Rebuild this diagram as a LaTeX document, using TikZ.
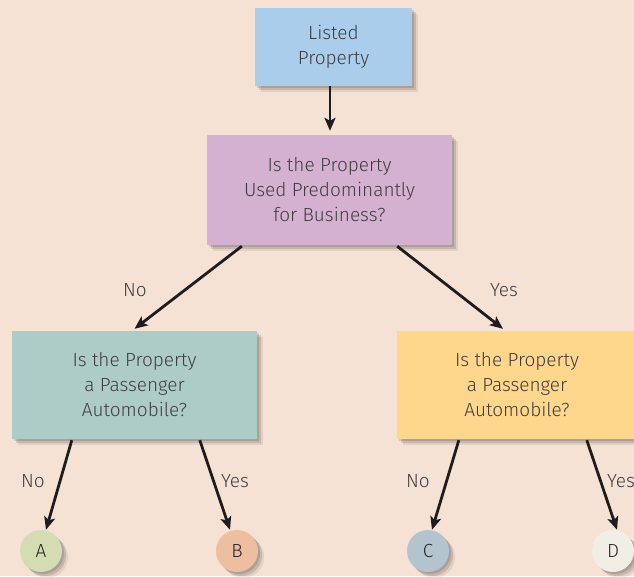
\documentclass[tikz,border=0pt]{standalone}
\usepackage{fontspec}
\setmainfont{Fira Sans}[UprightFont={* Light}]
\usetikzlibrary{arrows.meta,shadows,calc}
\definecolor{bg}{RGB}{245,226,212}
\definecolor{ink}{RGB}{65,62,66}
\definecolor{arrowink}{RGB}{30,28,30}
\definecolor{cblue}{RGB}{170,205,236}
\definecolor{cpurple}{RGB}{212,177,208}
\definecolor{cteal}{RGB}{173,204,200}
\definecolor{cyellow}{RGB}{254,214,140}
\definecolor{ca}{RGB}{212,220,178}
\definecolor{cb}{RGB}{238,190,160}
\definecolor{cc}{RGB}{180,196,206}
\definecolor{cd}{RGB}{241,239,229}
\tikzset{
  softshadow/.style={
    drop shadow={shadow xshift=2pt, shadow yshift=-2pt, opacity=0.12, fill=black},
    drop shadow={shadow xshift=4pt, shadow yshift=-4pt, opacity=0.12, fill=black},
    drop shadow={shadow xshift=6pt, shadow yshift=-6pt, opacity=0.08, fill=black}},
  box/.style={draw=none, align=center, text=ink, font=\fontsize{19}{25}\selectfont, softshadow},
  leaf/.style={circle, draw=none, minimum size=42pt, inner sep=0pt, text=black!85,
    font=\fontsize{19}{20}\selectfont, softshadow},
  lbl/.style={text=ink, font=\fontsize{19}{20}\selectfont},
  link/.style={draw=arrowink, line width=2.8pt, -{Stealth[length=13pt,width=11pt,inset=3pt]}},
}
\begin{document}
\begin{tikzpicture}[x=1pt,y=-1pt]
  \fill[bg] (0,0) rectangle (634,576);
  \useasboundingbox (0,0) rectangle (634,576);

  % decision boxes
  \node[box, fill=cblue, minimum width=157pt, minimum height=78pt] (start) at (333.5,47) {Listed\\Property};
  \node[box, fill=cpurple, minimum width=245pt, minimum height=110pt] (biz) at (329.5,190) {Is the Property\\Used Predominantly\\for Business?};
  \node[box, fill=cteal, minimum width=245pt, minimum height=108pt] (autoL) at (134.5,385) {Is the Property\\a Passenger\\Automobile?};
  \node[box, fill=cyellow, minimum width=240pt, minimum height=108pt] (autoR) at (517,385) {Is the Property\\a Passenger\\Automobile?};

  % outcomes
  \node[leaf, fill=ca] (A) at (41,551) {A};
  \node[leaf, fill=cb] (B) at (237,551) {B};
  \node[leaf, fill=cc] (C) at (428,551) {C};
  \node[leaf, fill=cd] (D) at (613,551) {D};

  % connectors
  \draw[link] (start.south) ++(-3.5,0) -- ($(biz.north)+(0.5,-4)$);
  \draw[link] ($(biz.south west)+(35,1)$) -- ($(autoL.north)+(0,-2)$);
  \draw[link] ($(biz.south east)+(-55,1)$) -- ($(autoR.north)+(-14,-2)$);
  \draw[link] ($(autoL.south west)+(60,1)$) -- ($(A.north)+(5,0)$);
  \draw[link] ($(autoL.south west)+(188,1)$) -- ($(B.north)+(-7,0)$);
  \draw[link] ($(autoR.south west)+(62,1)$) -- ($(C.north)+(4,0)$);
  \draw[link] ($(autoR.south west)+(190,1)$) -- ($(D.north)+(4,0)$);

  % branch labels
  \node[lbl] (n1) at (135,290) {No};
  \node[lbl] (y1) at (504,290) {Yes};
  \node[lbl] (n2) at (33,481) {No};
  \node[lbl] (y2) at (235,481) {Yes};
  \node[lbl] (n3) at (418,481) {No};
  \node[lbl] (y3) at (621,481) {Yes};
\end{tikzpicture}
\end{document}
